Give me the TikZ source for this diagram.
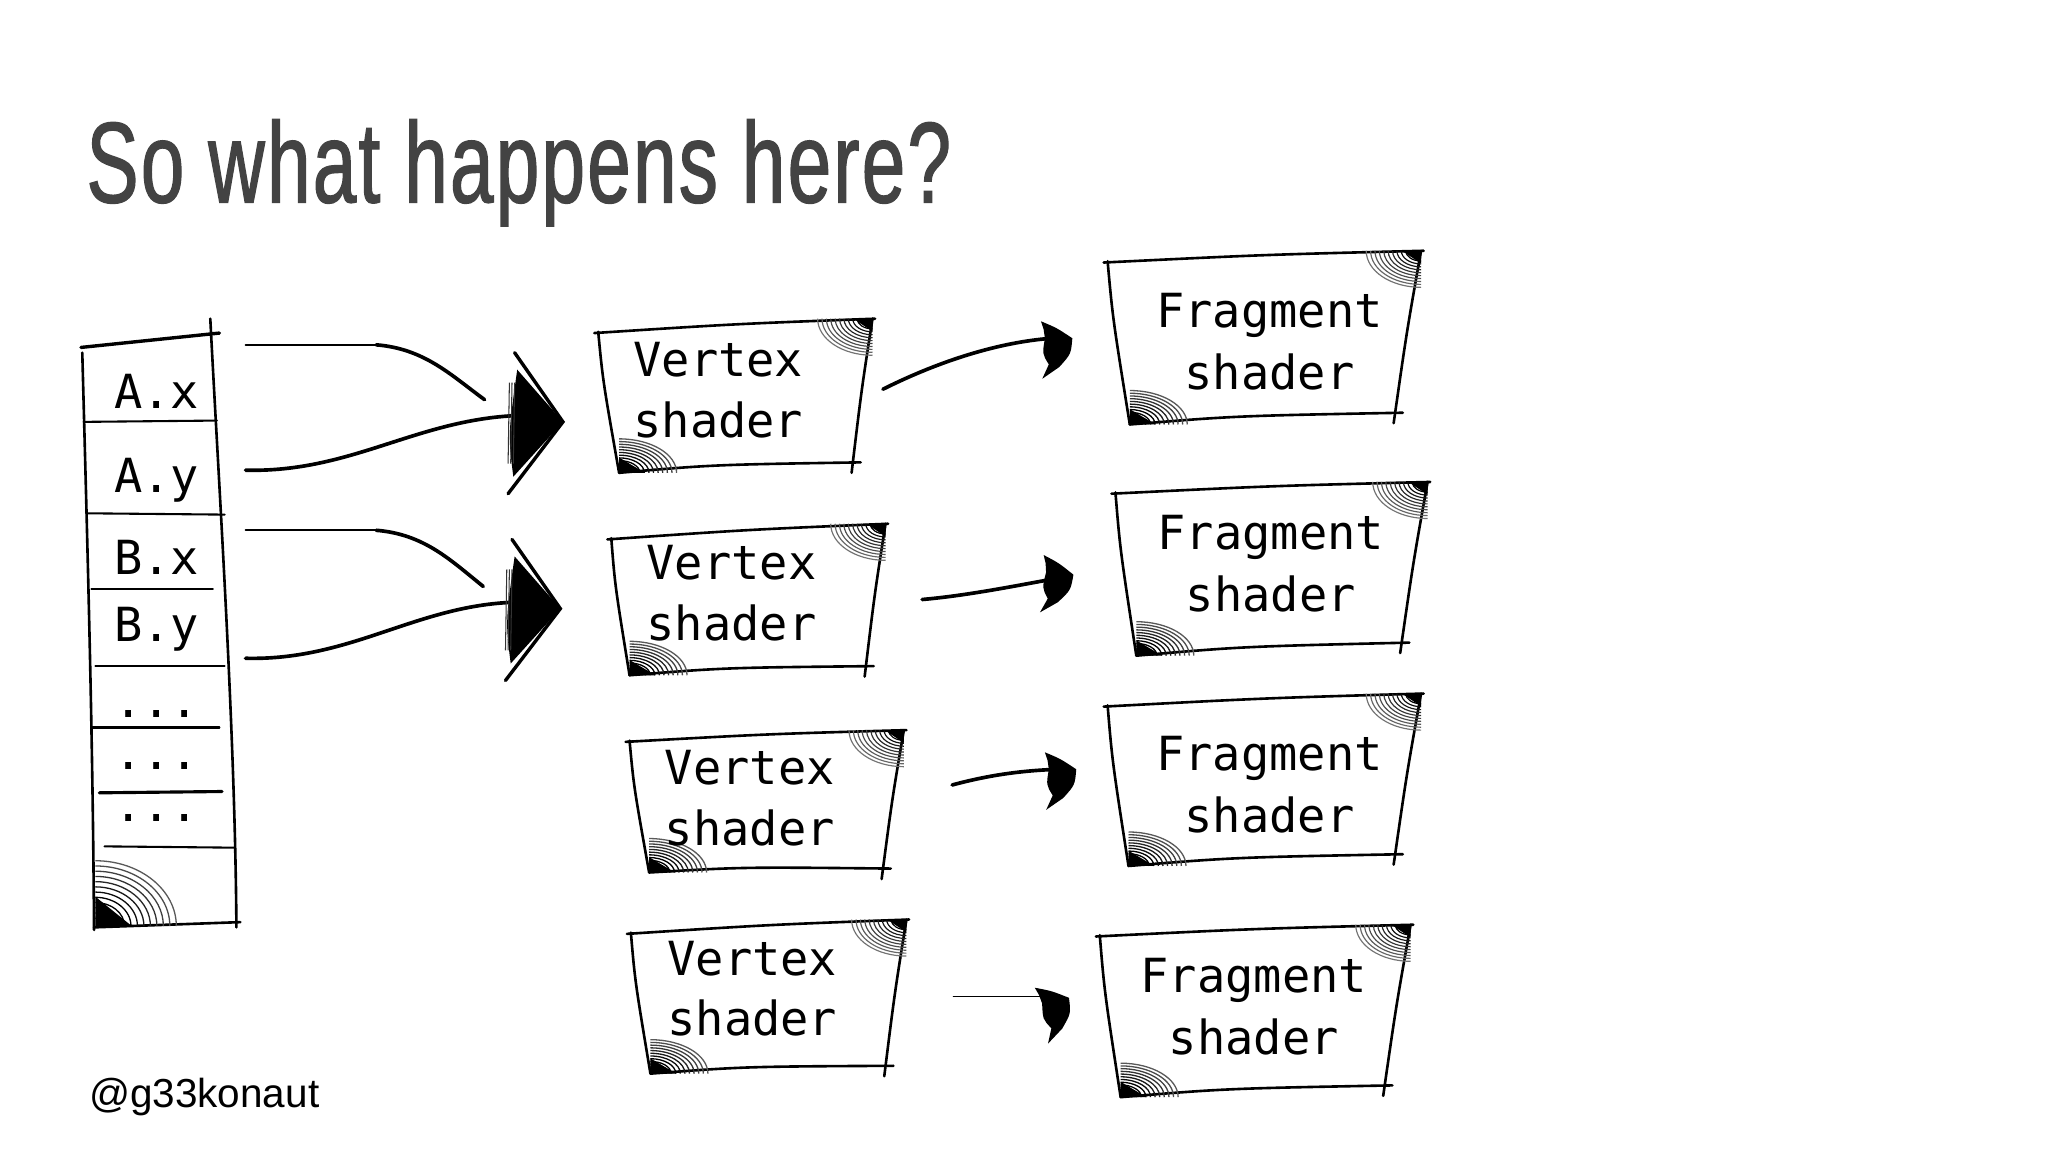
\documentclass[tikz,border=0pt]{standalone}
\usepackage{fontspec}
\setmainfont{Liberation Sans}
\newfontfamily\titlefont[FakeStretch=0.68,FakeBold=1.1,LetterSpace=2]{Liberation Sans}
\newfontfamily\codefont{DejaVu Sans Mono}
\usetikzlibrary{calc}
\definecolor{titlegray}{HTML}{434343}

\newcommand\hatchTR[3]{%
  \foreach \f/\g in {1/55,0.92/60,0.84/65,0.76/70,0.68/75,0.6/80,0.52/85,0.44/90,0.36/95,0.28/100,0.2/100,0.12/100}{%
    \draw[line width=0.9pt,black!\g] (#1) ++({-\f*#2},0) arc[start angle=180,end angle=90,x radius={\f*#2},y radius={\f*#3}];
  }%
  \fill (#1) -- ++({-0.35*#2},0) -- ++({0.35*#2},{0.35*#3}) -- cycle;
}
\newcommand\hatchBL[3]{%
  \foreach \f/\g in {1/65,0.92/70,0.84/75,0.76/80,0.68/85,0.6/90,0.52/95,0.44/100,0.36/100,0.28/100,0.2/100,0.12/100}{%
    \draw[line width=1pt,black!\g] (#1) ++({\f*#2},0) arc[start angle=0,end angle=-90,x radius={\f*#2},y radius={\f*#3}];
  }%
  \fill (#1) -- ++({0.45*#2},0) -- ++({-0.45*#2},{-0.45*#3}) -- cycle;
}
\newcommand\sketchbox[4]{%
  \draw[ink] ($(#1)+(-3,1)$) .. controls ($(#1)!0.5!(#2)+(0,-1)$) .. ($(#2)+(2,0)$);
  \draw[ink] (#2) .. controls ($(#2)!0.5!(#3)+(-1,0)$) .. ($(#3)+(-1,8)$);
  \draw[ink] (#4) .. controls ($(#4)!0.4!(#3)+(0,-3)$) .. ($(#3)+(6,0)$);
  \draw[ink] (#1) .. controls ($(#1)!0.35!(#4)+(-2,0)$) .. (#4);
  \hatchTR{#2}{42}{28}
  \hatchBL{#4}{44}{26}
}
\newcommand\bighead[1]{%
  \begin{scope}[shift={(#1)}]
    \fill (-35,-40) -- (0,0) -- (-38,42) .. controls (-42,10) .. (-35,-40);
    \foreach \x in {-41,-39,-37}{\draw[line width=0.8pt,black!80] (\x,-30) -- ({\x-1},32);}
    \draw[line width=2.6pt,line cap=round,line join=miter] (-37,-53) -- (0,0) -- (-42,55);
  \end{scope}
}
\newcommand\smallhead[2]{%
  \begin{scope}[shift={(#1)},rotate=#2]
    \fill (-24,-11) .. controls (-12,-6) .. (0,2) .. controls (-1,14) .. (-10,24) -- (-23,33) -- (-18,22) .. controls (-23,14) .. (-21,2) -- (-22,-5) -- cycle;
  \end{scope}
}

\begin{document}
\begin{tikzpicture}[x=1pt,y=-1pt,
  ink/.style={line width=2pt,line cap=round,line join=round},
  sep/.style={line width=1.6pt,line cap=round},
  code/.style={font=\codefont\fontsize{36}{40}\selectfont,inner sep=0pt,anchor=base},
  shaft/.style={line width=2.8pt,line cap=round},
  thinshaft/.style={line width=1.4pt,line cap=round}]
\useasboundingbox (0,0) rectangle (1568,882);

\node[anchor=base west,inner sep=0pt,text=titlegray,font=\titlefont\fontsize{88}{100}\selectfont] (title) at (66,155) {So what happens here?};
\node[anchor=base west,inner sep=0pt,font=\fontsize{31}{36}\selectfont] (handle) at (68,848) {@g33konaut};

% memory column
\draw[line width=2.6pt,line cap=round] (62,266) -- (168,255);
\draw[ink] (161,244) .. controls (168,380) and (180,560) .. (181,710);
\draw[ink] (63,270) .. controls (67,420) and (71,560) .. (72,712);
\draw[ink] (72,710) -- (184,706);
\draw[sep] (64,323) -- (166,322);
\draw[sep] (67,393) -- (172,394);
\draw[sep] (70,451) -- (163,451);
\draw[sep] (73,510) -- (172,510);
\draw[sep] (70,557) -- (168,557);
\draw[line width=2.4pt,line cap=round] (76,607) -- (170,606);
\draw[sep] (80,648) -- (180,649);
\hatchBL{73,709}{62}{50}
\node[code] (ax) at (120,313) {A.x};
\node[code] (ay) at (120,377) {A.y};
\node[code] (bx) at (120,440) {B.x};
\node[code] (by) at (120,491) {B.y};
\node[code] (d1) at (120,549) {...};
\node[code] (d2) at (120,589) {...};
\node[code] (d3) at (120,629) {...};

% vertex shader boxes
\coordinate (v1tl) at (458,254); \coordinate (v1tr) at (668,244); \coordinate (v1br) at (653,354); \coordinate (v1bl) at (474,362);
\coordinate (v2tl) at (468,412); \coordinate (v2tr) at (678,401); \coordinate (v2br) at (663,510); \coordinate (v2bl) at (482,517);
\coordinate (v3tl) at (482,567); \coordinate (v3tr) at (692,559); \coordinate (v3br) at (676,665); \coordinate (v3bl) at (497,668);
\coordinate (v4tl) at (483,714); \coordinate (v4tr) at (694,704); \coordinate (v4br) at (678,816); \coordinate (v4bl) at (498,822);
\sketchbox{v1tl}{v1tr}{v1br}{v1bl}
\sketchbox{v2tl}{v2tr}{v2br}{v2bl}
\sketchbox{v3tl}{v3tr}{v3br}{v3bl}
\sketchbox{v4tl}{v4tr}{v4br}{v4bl}
\node[code] (v1) at (550,288) {Vertex}; \node[code] (v1s) at (550,335) {shader};
\node[code] (v2) at (560,444) {Vertex}; \node[code] (v2s) at (560,490) {shader};
\node[code] (v3) at (574,601) {Vertex}; \node[code] (v3s) at (574,647) {shader};
\node[code] (v4) at (576,747) {Vertex}; \node[code] (v4s) at (576,793) {shader};

% fragment shader boxes
\coordinate (f1tl) at (848,200); \coordinate (f1tr) at (1088,192); \coordinate (f1br) at (1068,316); \coordinate (f1bl) at (865,325);
\coordinate (f2tl) at (854,377); \coordinate (f2tr) at (1093,369); \coordinate (f2br) at (1073,492); \coordinate (f2bl) at (870,502);
\coordinate (f3tl) at (848,540); \coordinate (f3tr) at (1088,531); \coordinate (f3br) at (1068,654); \coordinate (f3bl) at (864,663);
\coordinate (f4tl) at (842,716); \coordinate (f4tr) at (1080,708); \coordinate (f4br) at (1060,831); \coordinate (f4bl) at (858,840);
\sketchbox{f1tl}{f1tr}{f1br}{f1bl}
\sketchbox{f2tl}{f2tr}{f2br}{f2bl}
\sketchbox{f3tl}{f3tr}{f3br}{f3bl}
\sketchbox{f4tl}{f4tr}{f4br}{f4bl}
\node[code] (f1) at (972,251) {Fragment}; \node[code] (f1s) at (972,298) {shader};
\node[code] (f2) at (973,421) {Fragment}; \node[code] (f2s) at (973,468) {shader};
\node[code] (f3) at (972,590) {Fragment}; \node[code] (f3s) at (972,637) {shader};
\node[code] (f4) at (960,760) {Fragment}; \node[code] (f4s) at (960,807) {shader};

% column -> vertex arrows
\coordinate (axo) at (188,264); \coordinate (ayo) at (188,360);
\coordinate (bxo) at (188,406); \coordinate (byo) at (188,504);
\coordinate (hA) at (431,323); \coordinate (hB) at (429,466);
\draw[thinshaft] (axo) -- ++(100,0) coordinate (axm);
\draw[shaft] (axm) .. controls (325,267) and (345,287) .. (371,306);
\draw[shaft] (ayo) .. controls (270,362) and (320,320) .. (400,318);
\draw[thinshaft] (bxo) -- ++(100,0) coordinate (bxm);
\draw[shaft] (bxm) .. controls (325,409) and (345,429) .. (370,449);
\draw[shaft] (byo) .. controls (270,506) and (320,462) .. (398,461);
\bighead{hA}
\bighead{hB}

% vertex -> fragment arrows
\coordinate (a1o) at (676,298); \coordinate (a1h) at (821,257);
\coordinate (a2o) at (706,459); \coordinate (a2h) at (822,438);
\coordinate (a3o) at (729,601); \coordinate (a3h) at (824,587);
\coordinate (a4o) at (730,763); \coordinate (a4h) at (818,762);
\draw[shaft] (a1o) .. controls (720,276) and (765,262) .. (805,259);
\draw[shaft] (a2o) .. controls (740,456) and (775,449) .. (808,443);
\draw[shaft] (a3o) .. controls (755,594) and (780,590) .. (810,589);
\draw[thinshaft] (a4o) -- (800,763);
\smallhead{a1h}{0}
\smallhead{a2h}{-5}
\smallhead{a3h}{0}
\smallhead{a4h}{12}
\end{tikzpicture}
\end{document}
